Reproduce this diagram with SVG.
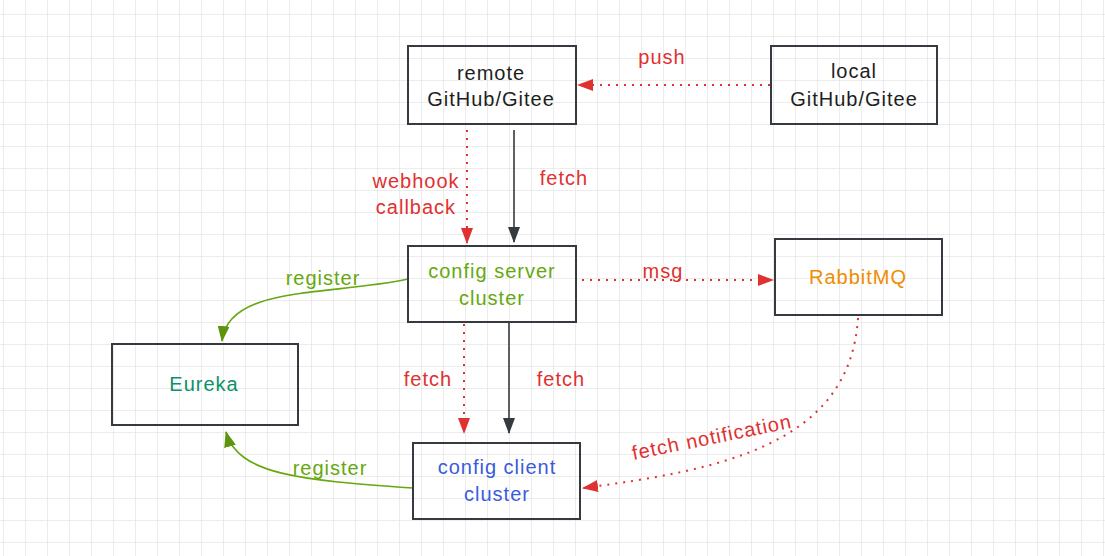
<svg xmlns="http://www.w3.org/2000/svg" width="1105" height="556" viewBox="0 0 1105 556">
<defs>
<pattern id="grid" x="3" y="14" width="22" height="22" patternUnits="userSpaceOnUse">
<path d="M0 0H22M0 0V22" fill="none" stroke="#e6e6e6" stroke-width="1.5"/>
</pattern>
<marker id="aRed" viewBox="0 0 16 12" refX="15" refY="6" markerWidth="16" markerHeight="12" markerUnits="userSpaceOnUse" orient="auto"><path d="M0 0L16 6L0 12Z" fill="#e03131"/></marker>
<marker id="aDark" viewBox="0 0 16 12" refX="15" refY="6" markerWidth="16" markerHeight="12" markerUnits="userSpaceOnUse" orient="auto"><path d="M0 0L16 6L0 12Z" fill="#343a40"/></marker>
<marker id="aGreen" viewBox="0 0 16 12" refX="15" refY="6" markerWidth="16" markerHeight="12" markerUnits="userSpaceOnUse" orient="auto"><path d="M0 0L16 6L0 12Z" fill="#5c940d"/></marker>
</defs>
<style>
.box{fill:none;stroke:#343a40;stroke-width:2}
text{font-family:"Liberation Sans",Arial,sans-serif;font-size:20px;letter-spacing:1px;text-anchor:middle}
.red{fill:#e03131}
.dot{fill:none;stroke:#e03131;stroke-width:2;stroke-dasharray:2 6}
.solid{fill:none;stroke:#343a40;stroke-width:1.6}
.green{fill:none;stroke:#66a80f;stroke-width:1.6}
</style>
<rect width="1105" height="556" fill="#fff"/>
<rect width="1105" height="556" fill="url(#grid)"/>

<g id="connectors">
<path class="dot" d="M770 85H578" marker-end="url(#aRed)"/>
<path class="dot" d="M467 130V243" marker-end="url(#aRed)"/>
<path class="solid" d="M514 130V242" marker-end="url(#aDark)"/>
<path class="dot" d="M582 280H773" marker-end="url(#aRed)"/>
<path class="green" d="M408 279C330 296 228 285 222 341" marker-end="url(#aGreen)"/>
<path class="dot" d="M464 324V433" marker-end="url(#aRed)"/>
<path class="solid" d="M509 322V433" marker-end="url(#aDark)"/>
<path class="dot" d="M858 318C850 445 720 470 583 488" marker-end="url(#aRed)"/>
<path class="green" d="M413 488C300 480 238 475 226 432" marker-end="url(#aGreen)"/>
<text class="red" x="662" y="64">push</text>
<text class="red" x="416" y="188">webhook</text>
<text class="red" x="416" y="214">callback</text>
<text class="red" x="564" y="185">fetch</text>
<text class="red" x="663" y="278">msg</text>
<text x="323" y="285" fill="#66a80f">register</text>
<text class="red" x="428" y="386">fetch</text>
<text class="red" x="561" y="386">fetch</text>
<text x="330" y="475" fill="#66a80f">register</text>
<text class="red" x="712" y="444" transform="rotate(-11.5 712 438)">fetch notification</text>
</g>

<g id="remote">
<rect class="box" x="408" y="46" width="168" height="78"/>
<text x="491" y="80" fill="#1e1e1e">remote</text>
<text x="491" y="106" fill="#1e1e1e">GitHub/Gitee</text>
</g>
<g id="local">
<rect class="box" x="771" y="46" width="166" height="78"/>
<text x="854" y="78" fill="#1e1e1e">local</text>
<text x="854" y="106" fill="#1e1e1e">GitHub/Gitee</text>
</g>
<g id="config-server">
<rect class="box" x="408" y="246" width="168" height="76"/>
<text x="492" y="278" fill="#66a80f">config server</text>
<text x="492" y="305" fill="#66a80f">cluster</text>
</g>
<g id="rabbitmq">
<rect class="box" x="775" y="239" width="167" height="76"/>
<text x="858" y="284" fill="#f08c00">RabbitMQ</text>
</g>
<g id="eureka">
<rect class="box" x="112" y="344" width="186" height="81"/>
<text x="204" y="391" fill="#099268">Eureka</text>
</g>
<g id="config-client">
<rect class="box" x="413" y="443" width="167" height="76"/>
<text x="497" y="474" fill="#3b5bdb">config client</text>
<text x="497" y="501" fill="#3b5bdb">cluster</text>
</g>
</svg>
